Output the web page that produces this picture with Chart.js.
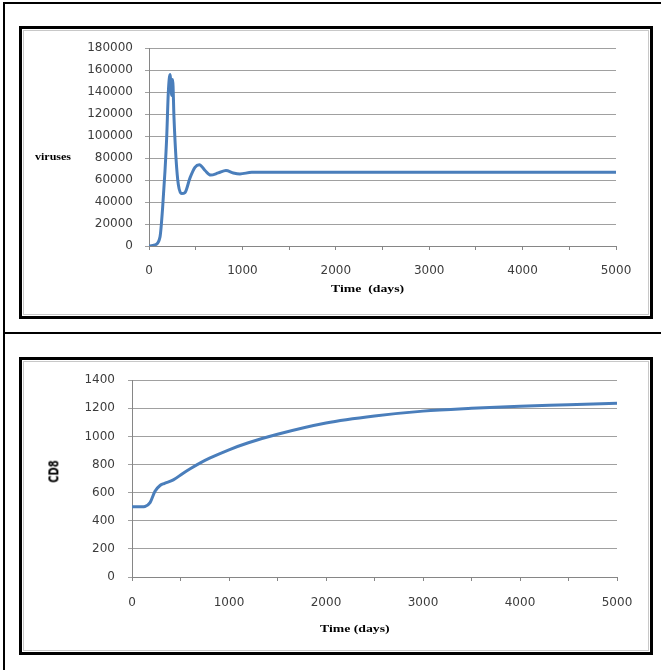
<!DOCTYPE html>
<html>
<head>
<meta charset="utf-8">
<script src="https://cdn.jsdelivr.net/npm/chart.js@4.4.1/dist/chart.umd.min.js"></script>
<style>
  body { margin: 0; background: #fff; width: 661px; height: 670px; overflow: hidden; position: relative; }
  .frame { position: absolute; left: 3px; top: 2px; width: 700px; height: 700px; border: 2px solid #000; }
  .sep { position: absolute; left: 3px; top: 332px; width: 700px; height: 2px; background: #000; }
  .box { position: absolute; border: 3px solid #000; box-sizing: border-box; background: #fff; }
  .box .inner { position: absolute; left: 1px; top: 1px; right: 1px; bottom: 1px; border: 1px solid #c8c8c8; }
  .holder { position: absolute; }
  .lbl { position: absolute; font-family: "Liberation Serif", serif; font-weight: bold; color: #000; white-space: pre; }
</style>
</head>
<body>
<div class="frame"></div>
<div class="sep"></div>

<div class="box" style="left:19px; top:26px; width:634px; height:293px;"><div class="inner"></div></div>
<div class="box" style="left:19px; top:357px; width:634px; height:298px;"><div class="inner"></div></div>

<div class="holder" style="left:22px; top:29px; width:628px; height:287px;"><canvas id="virusChart"></canvas></div>
<div class="holder" style="left:22px; top:360px; width:628px; height:292px;"><canvas id="cd8Chart"></canvas></div>

<div class="lbl" style="left:35px; top:151px; font-size:10px; transform:scaleX(1.2); transform-origin:left center;">viruses</div>
<div class="lbl" style="left:331px; top:282px; font-size:11px; transform:scaleX(1.25); transform-origin:left center;">Time  (days)</div>
<div class="lbl" style="left:320px; top:622px; font-size:11px; transform:scaleX(1.25); transform-origin:left center;">Time (days)</div>
<div class="lbl" style="left:43px; top:465px; font-size:11px; font-family:'Liberation Sans Narrow','DejaVu Sans Condensed',sans-serif; transform:rotate(-90deg) scaleY(1.2); transform-origin:center center;">CD8</div>

<script>
// virus load over time
const virusDays = [0, 64, 118, 146, 171, 189, 207, 225, 243, 253, 268, 289, 314, 350, 385, 439, 492, 539, 600, 660, 742, 824, 903, 974, 1100, 2000, 3000, 4000, 5000];
const virusValues = [0, 1000, 8300, 35000, 68000, 98000, 140000, 156000, 137000, 151600, 115800, 80000, 56000, 47700, 48600, 62000, 71600, 74000, 68700, 64500, 66500, 68700, 66500, 65600, 67000, 67000, 67000, 67000, 67000];

// CD8 cells over time
const cd8Days = [0, 100, 134, 186, 237, 289, 330, 426, 520, 600, 700, 800, 1000, 1200, 1500, 2000, 2500, 3000, 3500, 4000, 4500, 5000];
const cd8Values = [500, 500, 502, 529, 610, 651, 665, 691, 735, 770, 810, 845, 905, 955, 1015, 1095, 1145, 1180, 1200, 1215, 1225, 1236];

const xTicks = [0, 1000, 2000, 3000, 4000, 5000];
const virusTicks = [0, 20000, 40000, 60000, 80000, 100000, 120000, 140000, 160000, 180000];
const cd8Ticks = [0, 200, 400, 600, 800, 1000, 1200, 1400];

const lineColor = '#4a7ebb';
const tickFont = { family: 'DejaVu Sans', size: 12 };
const tickColor = '#3c3c3c';

function toPoints(xs, ys) {
    return xs.map((x, i) => ({ x: x, y: ys[i] }));
}

function makeChart(id, xs, ys, yTicks, opts) {
    const ctx = document.getElementById(id);
    return new Chart(ctx, {
        type: 'line',
        data: {
            datasets: [{
                data: toPoints(xs, ys),
                borderColor: lineColor,
                borderWidth: 3,
                pointRadius: 0,
                cubicInterpolationMode: 'monotone',
                fill: false
            }]
        },
        options: {
            responsive: true,
            maintainAspectRatio: false,
            animation: false,
            events: [],
            layout: { padding: { left: 0, top: 16, right: opts.right, bottom: 0 } },
            plugins: { legend: { display: false }, tooltip: { enabled: false } },
            scales: {
                x: {
                    type: 'linear',
                    min: 0,
                    max: 5000,
                    afterFit: (s) => { s.height = opts.xHeight; },
                    afterBuildTicks: (s) => {
                        // minor marks every 500, labels only at thousands
                        const t = [];
                        for (let v = 0; v <= 5000; v += 500) t.push({ value: v });
                        s.ticks = t;
                    },
                    ticks: {
                        autoSkip: false,
                        maxRotation: 0,
                        padding: opts.xPad,
                        color: tickColor,
                        font: tickFont,
                        callback: (v) => xTicks.includes(v) ? String(v) : ''
                    },
                    grid: { drawOnChartArea: false, tickLength: 4, color: '#868686' },
                    border: { color: '#868686', width: 1 }
                },
                y: {
                    min: yTicks[0],
                    max: yTicks[yTicks.length - 1],
                    afterFit: (s) => { s.width = opts.yWidth; },
                    afterBuildTicks: (s) => { s.ticks = yTicks.map(v => ({ value: v })); },
                    ticks: {
                        padding: opts.yPad,
                        color: tickColor,
                        font: tickFont,
                        callback: (v) => String(v)
                    },
                    grid: { color: '#a0a0a0', tickLength: 4, lineWidth: 1 },
                    border: { color: '#868686', width: 1 }
                }
            }
        }
    });
}

makeChart('virusChart', virusDays, virusValues, virusTicks, { right: 34, xHeight: 70, yWidth: 127, xPad: 14, yPad: 12 });
makeChart('cd8Chart', cd8Days, cd8Values, cd8Ticks, { right: 33, xHeight: 75, yWidth: 110, xPad: 15, yPad: 13 });
</script>
</body>
</html>
